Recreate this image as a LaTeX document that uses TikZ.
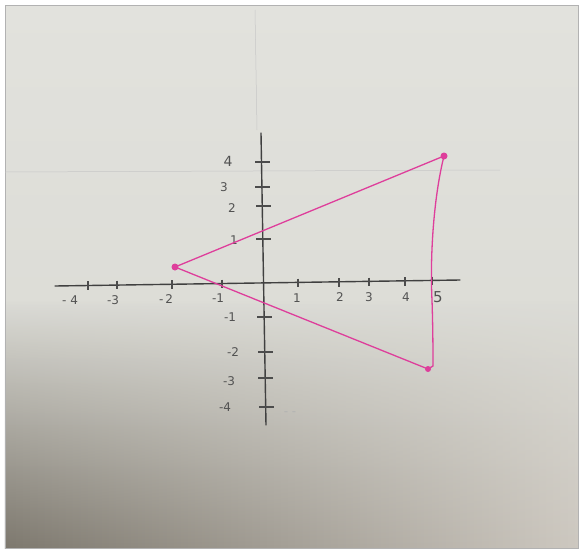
\documentclass[tikz,border=0pt]{standalone}
\usepackage{fontspec}
\setmainfont{DejaVu Sans}
\usetikzlibrary{fadings}
\tikzfading[name=fadedown, top color=transparent!100, middle color=transparent!70, bottom color=transparent!0]
\begin{document}
\begin{tikzpicture}[x=1pt,y=-1pt,
  axisline/.style={draw=black!75,line width=1.4pt,line cap=round},
  tickmark/.style={draw=black!70,line width=1.1pt},
  lbl/.style={text=black!68,font=\fontsize{12}{12}\selectfont,inner sep=0pt},
  pinkline/.style={draw=pinkink,line width=1.3pt,line join=round},
  vdot/.style={circle,fill=pinkink,inner sep=0pt,minimum size=7pt},
  faint/.style={draw=black!22,line width=0.5pt}]
\definecolor{paperA}{RGB}{226,226,221}
\definecolor{paperB}{RGB}{216,216,210}
\definecolor{darkL}{RGB}{125,120,110}
\definecolor{darkR}{RGB}{205,200,192}
\definecolor{pinkink}{RGB}{222,62,155}
\useasboundingbox (0,0) rectangle (582,552);
\fill[white] (0,0) rectangle (582,552);
% paper photo
\shade[top color=paperA, bottom color=paperB] (5,5) rectangle (578,548);
\shade[left color=darkL, right color=darkR, path fading=fadedown]
  (5,300) rectangle (578,548);
\draw[black!30,line width=0.6pt] (5,5) rectangle (578,548);
% faint paper lines
\draw[faint] (255,10) -- (257,130);
\draw[faint] (5,172) -- (500,170);
% axes
\coordinate (xl) at (55,286);
\coordinate (xr) at (460,280);
\coordinate (yt) at (261,133);
\coordinate (yb) at (266,425);
\draw[axisline] (xl) -- (xr);
\draw[axisline] (yt) -- (yb);
% x ticks
\foreach \x/\y in {88/285.5,117/285,172/284.5,222/284,298/283,339/282.5,369/282,405/281.5,432/281}
  \draw[tickmark] (\x,\y-4.5) -- (\x,\y+4);
% y ticks
\foreach \x/\y in {262/162,262/187,263/206,263/239,264/317,265/352,265/378,266/407}
  \draw[tickmark] (\x-7,\y) -- (\x+8,\y);
% x labels
\node[lbl] (xm4) at (70,300) {-\,\,4};
\node[lbl] (xm3) at (113,300) {-3};
\node[lbl] (xm2) at (166,299) {-\,2};
\node[lbl] (xm1) at (218,298) {-1};
\node[lbl] (x1) at (297,298) {1};
\node[lbl] (x2) at (340,297) {2};
\node[lbl] (x3) at (369,297) {3};
\node[lbl] (x4) at (406,297) {4};
\node[lbl,font=\fontsize{15}{15}\selectfont] (x5) at (438,297) {5};
% y labels
\node[lbl,font=\fontsize{14}{14}\selectfont] (y4) at (228,161) {4};
\node[lbl] (y3) at (224,187) {3};
\node[lbl] (y2) at (232,208) {2};
\node[lbl] (y1) at (234,240) {1};
\node[lbl] (ym1) at (230,317) {-1};
\node[lbl] (ym2) at (233,352) {-2};
\node[lbl] (ym3) at (229,381) {-3};
\node[lbl] (ym4) at (225,407) {-4};
\node[lbl,text=black!30] (dash) at (290,414) {- -};
% triangle
\node[vdot] (A) at (175,267) {};
\node[vdot] (B) at (444,156) {};
\node[vdot,minimum size=6pt] (C) at (428,369) {};
\draw[pinkline] (A.center) -- (B.center)
  .. controls (433,200) and (430,260) .. (432,300)
  .. controls (433,330) and (433,355) .. (433,366) -- (C.center) -- cycle;
\end{tikzpicture}
\end{document}
